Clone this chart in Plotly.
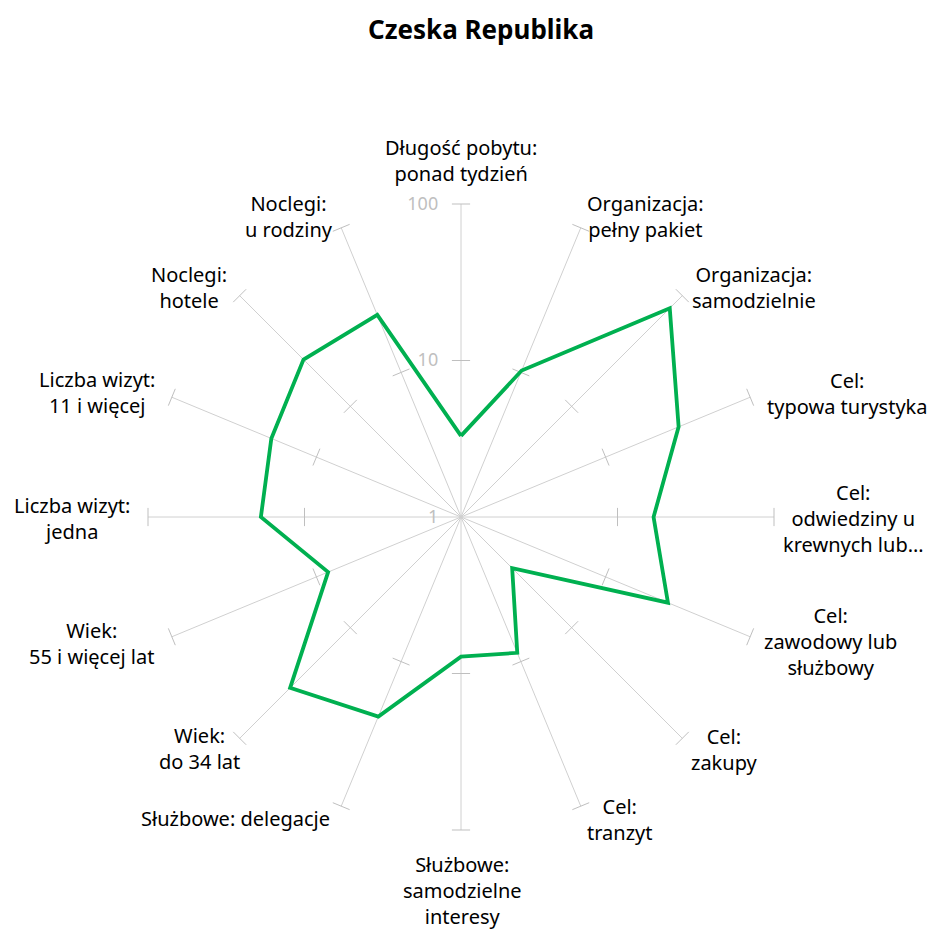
import plotly.graph_objects as go

categories = [
    "Długość pobytu:<br>ponad tydzień",
    "Organizacja:<br>pełny pakiet",
    "Organizacja:<br>samodzielnie",
    "Cel:<br>typowa turystyka",
    "Cel:<br>odwiedziny u<br>krewnych lub…",
    "Cel:<br>zawodowy lub<br>służbowy",
    "Cel:<br>zakupy",
    "Cel:<br>tranzyt",
    "Służbowe:<br>samodzielne<br>interesy",
    "Służbowe: delegacje",
    "Wiek:<br>do 34 lat",
    "Wiek:<br>55 i więcej lat",
    "Liczba wizyt:<br>jedna",
    "Liczba wizyt:<br>11 i więcej",
    "Noclegi:<br>hotele",
    "Noclegi:<br>u rodziny",
]
values = [3.3, 10.3, 77, 32, 17, 27, 2.9, 8.7, 7.8, 24, 35, 8.3, 19, 20.5, 26.5, 25]
tick_vals = [1, 10, 100]
tick_text = ["1", "10", "100"]

n = len(categories)
step = 360 / n
angles = [i * step for i in range(n)]

W, H = 935, 929
off = 8  # page body margin
cx, cy, rad = 461, 517, 313  # polar centre and outer radius in page pixels
# label centres on the page, in pixels
label_pos = [(461, 160), (645, 216), (754, 287), (847, 393), (853, 518),
             (830, 641), (724, 749), (619, 819), (462, 890), (235, 818),
             (199, 748), (91, 643), (72, 518), (97, 392), (189, 287), (289, 216)]

fig = go.Figure()

# small tick marks across every spoke at 10 and 100
for tv in tick_vals[1:]:
    fig.add_trace(go.Scatterpolar(
        r=[tv] * n,
        theta=angles,
        mode="markers",
        marker=dict(symbol="line-ew", size=13, angle=angles,
                    line=dict(color="#bfbfbf", width=1)),
        hoverinfo="skip",
        showlegend=False,
    ))

fig.add_trace(go.Scatterpolar(
    r=values + values[:1],
    theta=angles + angles[:1],
    mode="lines",
    line=dict(color="#00b050", width=3.8),
    showlegend=False,
))

for cat, (px, py) in zip(categories, label_pos):
    fig.add_annotation(
        x=(px - off) / W, y=1 - (py - off) / H,
        xref="paper", yref="paper",
        text=cat, showarrow=False, align="center",
        xanchor="center", yanchor="middle",
        font=dict(family="Noto Sans", size=20, color="black"),
    )

fig.update_layout(
    width=W, height=H,
    paper_bgcolor="white",
    plot_bgcolor="white",
    margin=dict(l=0, r=0, t=0, b=0),
    font=dict(family="Noto Sans", size=20, color="black"),
    title=dict(text="<b>Czeska Republika</b>", x=(481 - off) / W, xanchor="center",
               y=1 - 22 / H, yanchor="middle", font=dict(size=26)),
    polar=dict(
        domain=dict(x=[(cx - rad - off) / W, (cx + rad - off) / W],
                    y=[1 - (cy + rad - off) / H, 1 - (cy - rad - off) / H]),
        bgcolor="white",
        angularaxis=dict(
            direction="clockwise", rotation=90,
            tickmode="array", tickvals=angles, showticklabels=False,
            showline=False, gridcolor="#d0d0d0", gridwidth=1,
            ticks="",
        ),
        radialaxis=dict(
            type="log", range=[0, 2], angle=90, tickangle=90,
            tickvals=tick_vals, ticktext=tick_text,
            showline=False, showgrid=False,
            ticks="outside", ticklen=16, tickcolor="rgba(0,0,0,0)",
            side="counterclockwise",
            tickfont=dict(color="#bfbfbf", size=18),
        ),
    ),
)

fig.write_html("out.html")
